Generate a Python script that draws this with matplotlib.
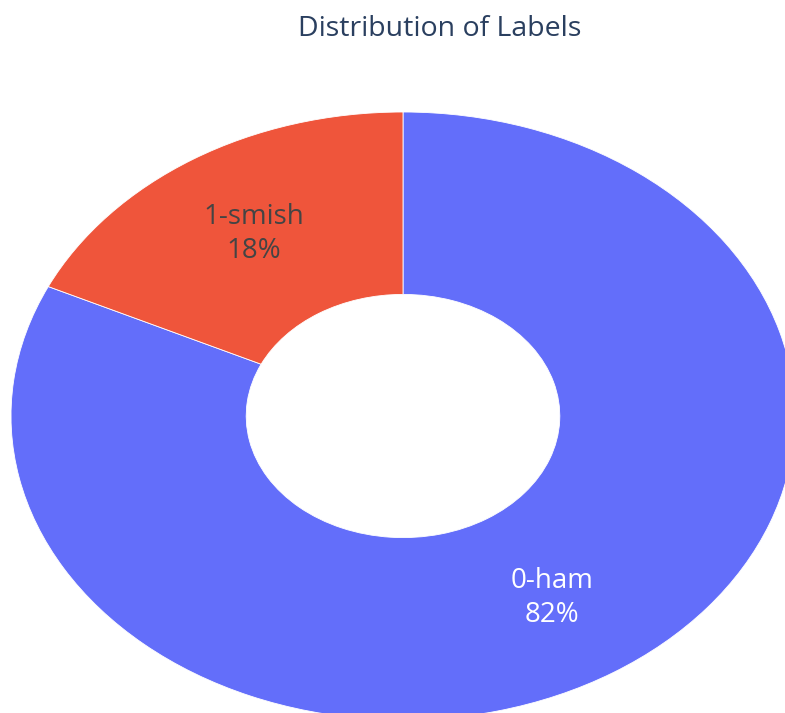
import matplotlib
matplotlib.use("Agg")
import matplotlib.pyplot as plt

# Label distribution (share of messages, %)
categories = ["0-ham", "1-smish"]
shares = [82.0, 18.0]
colors = ["#636EFA", "#EF553B"]
text_colors = ["#ffffff", "#444444"]
title = "Distribution of Labels"

W, H = 785, 713
fig = plt.figure(figsize=(W / 100, H / 100), dpi=100)
ax = fig.add_axes([0, 0, 1, 1])

total = sum(shares)
labels = [f"{c}\n{v / total * 100:.0f}%" for c, v in zip(categories, shares)]

wedges, texts = ax.pie(
    shares,
    labels=labels,
    colors=colors,
    startangle=90,
    counterclock=False,
    labeldistance=0.71,
    wedgeprops=dict(width=0.6, edgecolor="white", linewidth=0.6),
    textprops=dict(ha="center", va="center", fontsize=20,
                   family=["Open Sans", "DejaVu Sans"], linespacing=1.3),
)
for t, tc in zip(texts, text_colors):
    t.set_color(tc)
    t.set_multialignment("center")

# Elliptical donut: centre at (403, 416) px, radii 392 x 304 px
cx, cy, rx, ry = 403, 416, 392, 304
ax.set_aspect("auto")
ax.set_xlim(-cx / rx, (W - cx) / rx)
ax.set_ylim(-(H - cy) / ry, cy / ry)
ax.axis("off")

fig.text(440 / W, 1 - 29 / H, title, ha="center", va="center",
         fontsize=20.5, color="#2a3f5f", family=["Open Sans", "DejaVu Sans"])

fig.savefig("out.png", dpi=100, facecolor="white")
